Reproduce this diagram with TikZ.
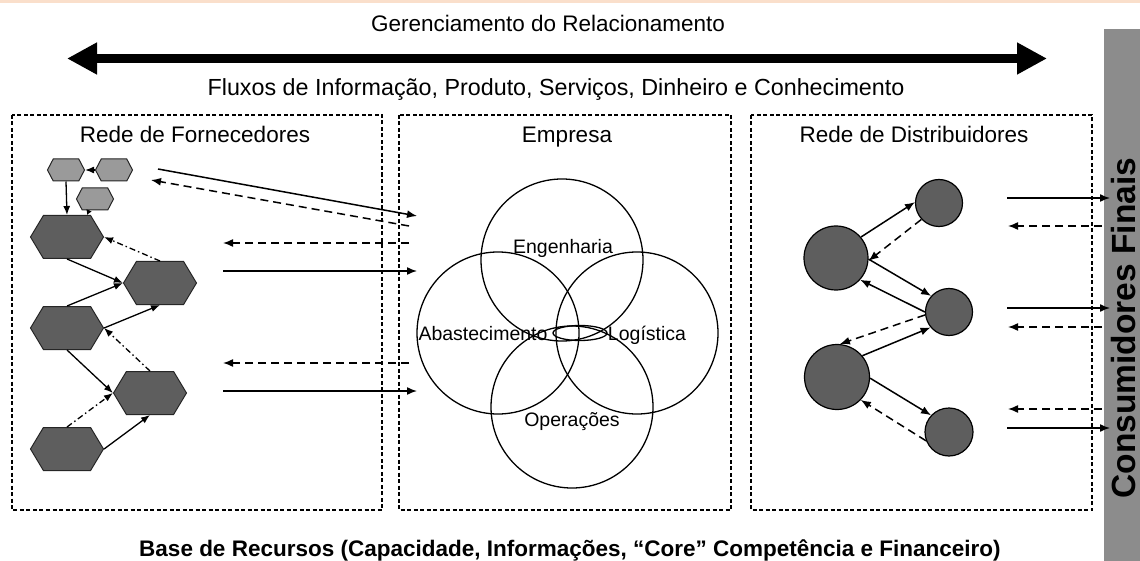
\documentclass[tikz,border=0pt]{standalone}
\usepackage{fontspec}
\setmainfont{Liberation Sans}
\usetikzlibrary{arrows.meta,shapes.symbols}

\definecolor{hexdark}{HTML}{5E5E5E}
\definecolor{hexlight}{HTML}{9A9A9A}
\definecolor{bargray}{HTML}{8C8C8C}
\definecolor{topline}{HTML}{FADFCB}

\tikzset{
  big/.style={font=\fontsize{22.5}{27}\selectfont, anchor=base},
  bigbold/.style={font=\fontsize{22.5}{27}\selectfont\bfseries, anchor=base},
  vennlabel/.style={font=\fontsize{19.5}{23}\selectfont, anchor=base},
  region/.style={line width=1.3pt, dash pattern=on 4pt off 2.5pt},
  hexbig/.style={signal, signal to=west and east, signal pointer angle=118, draw=black!85, line width=1pt, fill=hexdark, minimum width=73pt, minimum height=43pt, inner sep=0pt},
  hexsmall/.style={hexbig, fill=hexlight, signal pointer angle=125, minimum width=37pt, minimum height=22pt},
  venn/.style={circle, draw, line width=1.3pt, minimum size=162pt, inner sep=0pt},
  dnode/.style={circle, draw, line width=1.2pt, fill=hexdark, inner sep=0pt},
  flow/.style={line width=1.5pt, -{Latex[length=10pt,width=8pt]}},
  flowback/.style={flow, dash pattern=on 8pt off 5pt},
  link/.style={line width=1.3pt, -{Latex[length=9pt,width=7pt]}},
  linkback/.style={link, dash pattern=on 6pt off 3pt on 1.5pt off 3pt}
}

\begin{document}
\begin{tikzpicture}[x=1pt, y=-1pt]
  \useasboundingbox (0,0) rectangle (1140,561) ;
  \fill[topline] (0,0) rectangle (1140,3) ;
  \fill[bargray] (1104,29) rectangle (1140,561) ;

  \node[big] (gerenc) at (548,32) {Gerenciamento do Relacionamento} ;
  \coordinate (gl) at (67,58.5) ;
  \coordinate (gr) at (1047,58.5) ;
  \draw[line width=9pt, {Triangle[length=30pt,width=30pt]}-{Triangle[length=30pt,width=30pt]}] (gl) -- (gr) ;
  \node[big, font=\fontsize{23.3}{27}\selectfont] (fluxos) at (556,96) {Fluxos de Informação, Produto, Serviços, Dinheiro e Conhecimento} ;

  \draw[region] (12,115) rectangle (382,510) ;
  \draw[region] (399,115) rectangle (731,510) ;
  \draw[region] (751,115) rectangle (1092,510) ;
  \node[big] (fornec) at (195,143) {Rede de Fornecedores} ;
  \node[big] (empresa) at (567,143) {Empresa} ;
  \node[big] (distrib) at (914,143) {Rede de Distribuidores} ;

  \node[hexsmall] (s1) at (66,170) {} ;
  \node[hexsmall] (s2) at (114,170) {} ;
  \node[hexsmall] (s3) at (95,199) {} ;
  \node[hexbig] (h1) at (67,237) {} ;
  \node[hexbig] (h2) at (160,283) {} ;
  \node[hexbig] (h3) at (67,328) {} ;
  \node[hexbig] (h4) at (150,393) {} ;
  \node[hexbig] (h5) at (67,449) {} ;

  \draw[link] (s2.west) -- (s1.east) ;
  \draw[link] (s1.south) -- (h1.north) ;
  \draw[line width=1.3pt, -{Latex[length=5pt,width=6pt]}] ([xshift=-6pt]s3.south) -- ([xshift=20pt]h1.north) ;
  \draw[link] (h1.south) -- (h2.west) ;
  \draw[linkback] (h2.north) -- (h1.east) ;
  \draw[link] (h3.north) -- (h2.west) ;
  \draw[link] (h3.east) -- (h2.south) ;
  \draw[linkback] (h4.north) -- (h3.east) ;
  \draw[link] (h3.south) -- (h4.west) ;
  \draw[linkback] (h5.north) -- (h4.west) ;
  \draw[link] (h5.east) -- (h4.south) ;

  \coordinate (fa) at (158,169) ;
  \coordinate (fb) at (417,216) ;
  \coordinate (fc) at (409,226) ;
  \coordinate (fd) at (151,180) ;
  \draw[flow] (fa) -- (fb) ;
  \draw[flowback] (fc) -- (fd) ;
  \foreach \ya/\yb [count=\i] in {243/271, 363/391} {
    \coordinate (ml\i) at (409,\ya) ;
    \coordinate (mr\i) at (223,\ya) ;
    \coordinate (nl\i) at (223,\yb) ;
    \coordinate (nr\i) at (417,\yb) ;
    \draw[flowback] (ml\i) -- (mr\i) ;
    \draw[flow] (nl\i) -- (nr\i) ;
  }

  \node[venn] (eng) at (562,260) {} ;
  \node[venn] (abast) at (498,333) {} ;
  \node[venn] (logis) at (637,333) {} ;
  \node[venn] (oper) at (572,407) {} ;
  \draw[line width=1.3pt] (580,333) ellipse [x radius=27pt, y radius=7.5pt] ;
  \node[vennlabel] (lbeng) at (563,254) {Engenharia} ;
  \node[vennlabel] (lbabast) at (483,340) {Abastecimento} ;
  \node[vennlabel] (lblogis) at (647,340) {Logística} ;
  \node[vennlabel] (lboper) at (572,426) {Operações} ;

  \node[dnode, minimum size=64pt] (c1) at (836,258) {} ;
  \node[dnode, minimum size=65pt] (c2) at (837,377) {} ;
  \node[dnode, minimum size=47pt] (d1) at (939,203) {} ;
  \node[dnode, minimum size=47pt] (d2) at (949,312) {} ;
  \node[dnode, minimum size=48pt] (d3) at (949,432) {} ;
  \draw[flow] (c1.40) -- (d1.178) ;
  \draw[flowback] (d1.223) -- (c1.355) ;
  \draw[flow] (c1.358) -- (d2.138) ;
  \draw[flow] (d2.180) -- (c1.318) ;
  \draw[flowback] (d2.187) -- (c2.85) ;
  \draw[flow] (c2.40) -- (d2.220) ;
  \draw[flow] (c2.358) -- (d3.137) ;
  \draw[flowback] (d3.201) -- (c2.316) ;

  \foreach \ys/\yd [count=\i] in {198/226, 308/327, 428/409} {
    \coordinate (cs\i) at (1007,\ys) ;
    \coordinate (ct\i) at (1110,\ys) ;
    \coordinate (cd\i) at (1102,\yd) ;
    \coordinate (ce\i) at (1008,\yd) ;
    \draw[flow] (cs\i) -- (ct\i) ;
    \draw[flowback] (cd\i) -- (ce\i) ;
  }

  \node[rotate=90, anchor=base, font=\fontsize{33.5}{38}\selectfont\bfseries] (consum) at (1135,328) {Consumidores Finais} ;
  \node[bigbold] (recursos) at (570,556) {Base de Recursos (Capacidade, Informações, “Core” Competência e Financeiro)} ;
\end{tikzpicture}
\end{document}
